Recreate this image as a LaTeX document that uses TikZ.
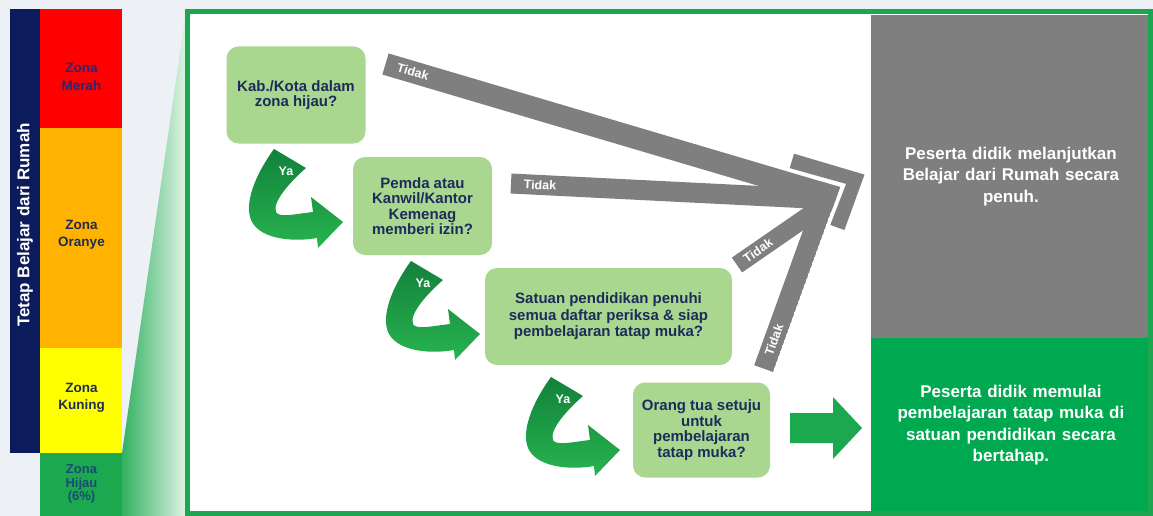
\documentclass[tikz,border=0pt]{standalone}
\usepackage{fontspec}
\setmainfont{Liberation Sans}
\definecolor{bgc}{HTML}{EDF1F6}
\definecolor{navy}{HTML}{0C1B5B}
\definecolor{zred}{HTML}{FF0000}
\definecolor{zorange}{HTML}{FFB300}
\definecolor{zyellow}{HTML}{FFFF00}
\definecolor{zgreen}{HTML}{1BA84E}
\definecolor{frameg}{HTML}{1CA650}
\definecolor{boxg}{HTML}{AAD790}
\definecolor{txtnavy}{HTML}{1D2B5B}
\definecolor{barg}{HTML}{7F7F7F}
\definecolor{yadark}{HTML}{12823B}
\definecolor{yalight}{HTML}{27B350}
\definecolor{resg}{HTML}{00A84F}
\definecolor{zmerah}{HTML}{2A2670}
\definecolor{zhijau}{HTML}{1A4A7A}
\definecolor{zdark}{HTML}{1F2D4F}
\begin{document}
\begin{tikzpicture}[x=1pt,y=-1pt,
  dbox/.style={fill=boxg, rounded corners=12pt, align=center, text=txtnavy,
    font=\fontsize{15}{15.5}\selectfont\bfseries, inner sep=0pt},
  bar/.style={draw=barg, line cap=butt},
  tidak/.style={text=white, font=\fontsize{12.5}{13}\selectfont\bfseries, inner sep=0pt},
  ztext/.style={align=center, font=\fontsize{13.5}{17.5}\selectfont\bfseries, inner sep=0pt},
  result/.style={align=center, text=white, font=\fontsize{17}{21.5}\selectfont\bfseries,
    inner sep=0pt, anchor=north west},
  yaarrow/.pic={
    \shade[top color=yadark, bottom color=yalight]
      (0,0) -- (32,19) .. controls (16,33) and (-2,53) .. (2,63)
      .. controls (5,69) and (21,65) .. (39,63) -- (37,48) -- (69,73) -- (44,99) -- (43,89)
      .. controls (21,93) and (-12,91) .. (-22,73)
      .. controls (-31,56) and (-19,26) .. (0,0) -- cycle;
    \node[text=white, font=\fontsize{12.5}{13}\selectfont\bfseries, inner sep=0pt] (-lbl) at (12,22) {Ya};
  }
]
\useasboundingbox (0,0) rectangle (1153,516);
\fill[bgc] (0,0) rectangle (1153,516);

% wedge
\shade[left color=zgreen!90, right color=white!85!zgreen] (122,453) -- (185,18) -- (185,516) -- (122,516) -- cycle;

% left column
\fill[navy] (10,9.5) rectangle (40,453);
\node[rotate=90, text=white, font=\fontsize{17}{20}\selectfont\bfseries, inner sep=0pt] (tbr) at (25,225) {Tetap Belajar dari Rumah};
\fill[zred] (40,9.5) rectangle (122,128);
\fill[zorange] (40,128) rectangle (122,348);
\fill[zyellow] (40,348) rectangle (122,453);
\fill[zgreen] (40,453) rectangle (122,516);
\node[ztext, text=zmerah] (zm) at (81.5,77) {Zona\\Merah};
\node[ztext, text=zdark] (zo) at (81.5,235) {Zona\\Oranye};
\node[ztext, text=zdark] (zk) at (81.5,398) {Zona\\Kuning};
\node[ztext, text=zhijau, font=\fontsize{13}{13.8}\selectfont\bfseries] (zh) at (81.5,484) {Zona\\Hijau\\(6\%)};

% main frame
\fill[white] (187.5,12) rectangle (1150.5,513.5);
\node[result, fill=barg, minimum width=279.5pt, minimum height=323pt, text width=260pt] (res1) at (871,14.5)
  {Peserta didik melanjutkan\\Belajar dari Rumah secara\\penuh.};
\node[result, fill=resg, minimum width=279.5pt, minimum height=175pt, text width=260pt] (res2) at (871,337.5)
  {Peserta didik memulai\\pembelajaran tatap muka di\\satuan pendidikan secara\\bertahap.};
\draw[frameg, line width=5pt] (187.5,12) rectangle (1150.5,513.5);

% decision boxes
\node[dbox, minimum width=139pt, minimum height=97pt] (q1) at (296,95) {Kab./Kota dalam\\zona hijau?};
\node[dbox, minimum width=139pt, minimum height=98pt] (q2) at (422.5,206) {Pemda atau\\Kanwil/Kantor\\Kemenag\\memberi izin?};
\node[dbox, minimum width=247pt, minimum height=97pt, font=\fontsize{15}{16.5}\selectfont\bfseries] (q3) at (608.5,316.5) {Satuan pendidikan penuhi\\semua daftar periksa \& siap\\pembelajaran tatap muka?};
\node[dbox, minimum width=137pt, minimum height=95pt] (q4) at (701.5,430) {Orang tua setuju\\untuk\\pembelajaran\\tatap muka?};

% Ya arrows
\pic (ya1) at (274,149) {yaarrow};
\pic (ya2) at (411,261) {yaarrow};
\pic (ya3) at (551,377) {yaarrow};

% Tidak bars
\coordinate (t1s) at (385.5,64);
\coordinate (t1e) at (870,207.4);
\coordinate (t2s) at (511,183.5);
\coordinate (t2e) at (850,200.5);
\coordinate (t3s) at (737,265);
\coordinate (t3e) at (850,187);
\coordinate (t4s) at (763.6,368.6);
\coordinate (t4e) at (845,144);
\begin{scope}
  \clip (370,47.7) -- (840,187.1) -- (763,400) -- (370,400) -- cycle;
  \draw[bar, line width=22pt] (t1s) -- (t1e);
  \draw[bar, line width=20pt] (t2s) -- (t2e);
  \draw[bar, line width=18pt] (t3s) -- (t3e);
  \draw[bar, line width=20pt] (t4s) -- (t4e);
\end{scope}
\fill[barg] (794,153.7) -- (864.5,174.6) -- (844.4,230) -- (830.3,224.9) -- (846.1,183.9) -- (789.7,168.1) -- cycle;
\node[tidak, rotate=-16.5] (tk1) at (413,72) {Tidak};
\node[tidak, rotate=-2.8] (tk2) at (540,185) {Tidak};
\node[tidak, rotate=34.6] (tk3) at (758,250.5) {Tidak};
\node[tidak, rotate=70.1] (tk4) at (774,340) {Tidak};

% big arrow to result
\fill[zgreen] (790,413) -- (833,413) -- (833,397) -- (862,428) -- (833,459) -- (833,443) -- (790,443) -- cycle;
\end{tikzpicture}
\end{document}
